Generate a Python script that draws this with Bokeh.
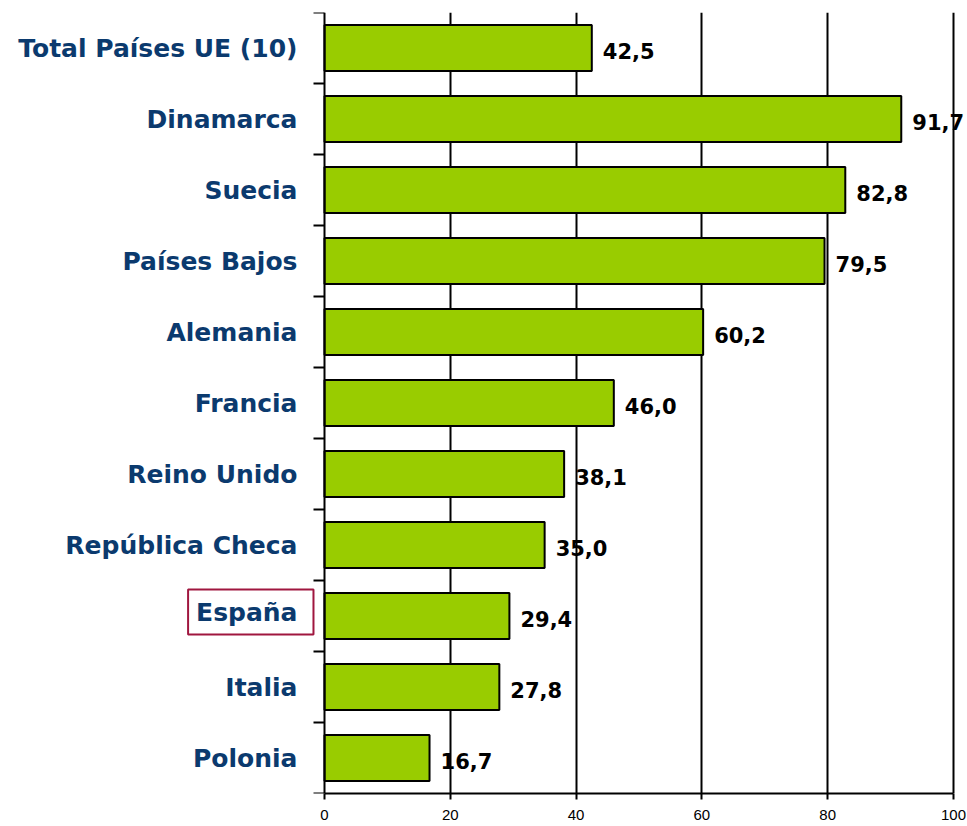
from bokeh.plotting import figure
from bokeh.models import Range1d, FixedTicker, Label, ColumnDataSource
from bokeh.core.properties import value
from bokeh.embed import file_html
from bokeh.resources import INLINE

# Data (top to bottom in the reference)
countries = ["Total Países UE (10)", "Dinamarca", "Suecia", "Países Bajos", "Alemania",
             "Francia", "Reino Unido", "República Checa", "España", "Italia", "Polonia"]
values = [42.5, 91.7, 82.8, 79.5, 60.2, 46.0, 38.1, 35.0, 29.4, 27.8, 16.7]
value_labels = ["42,5", "91,7", "82,8", "79,5", "60,2", "46,0", "38,1", "35,0", "29,4", "27,8", "16,7"]
x_ticks = [0, 20, 40, 60, 80, 100]
highlight = "España"

n = len(countries)
ypos = [n - 0.5 - i for i in range(n)]

LABEL_FONT = "DejaVu Sans"
NAVY = "#0B3A6E"

p = figure(width=967, height=826, output_backend="svg", toolbar_location=None,
           x_range=Range1d(-51.51, 102.23), y_range=Range1d(0, n),
           min_border_left=0, min_border_top=12, min_border_bottom=33, min_border_right=0)
p.outline_line_color = None
p.background_fill_color = "white"

src = ColumnDataSource(dict(y=ypos, v=values, lab=value_labels))
p.hbar(y="y", left=0, right="v", height=0.65, source=src,
       fill_color="#99CC00", line_color="black", line_width=2)
p.text(x="v", y="y", text="lab", source=src, x_offset=11, y_offset=3,
       text_font=value("DejaVu Sans"), text_font_style="bold", text_font_size="21px",
       text_color="black", text_baseline="middle", text_align="left")

# x axis
xa = p.xaxis[0]
xa.ticker = FixedTicker(ticks=x_ticks)
xa.bounds = (0, 100)
xa.axis_line_color = "black"
xa.axis_line_width = 2
xa.major_tick_line_color = "black"
xa.major_tick_line_width = 2
xa.major_tick_out = 6
xa.major_tick_in = 0
xa.minor_tick_line_color = None
xa.major_label_text_font = "Liberation Sans"
xa.major_label_text_font_size = "15px"
xa.major_label_text_color = "black"
xa.major_label_standoff = 10

# y axis, fixed at x = 0
ya = p.yaxis[0]
ya.fixed_location = 0
ya.ticker = FixedTicker(ticks=ypos, minor_ticks=list(range(n + 1)))
overrides = {}
for yy, c in zip(ypos, countries):
    overrides[yy] = "" if c == highlight else c
ya.major_label_overrides = overrides
ya.axis_line_color = "black"
ya.axis_line_width = 2
ya.major_tick_line_color = None
ya.major_tick_out = 0
ya.major_tick_in = 0
ya.minor_tick_line_color = "black"
ya.minor_tick_line_width = 2
ya.minor_tick_out = 11
ya.minor_tick_in = 0
ya.major_label_text_font = LABEL_FONT
ya.major_label_text_font_style = "bold"
ya.major_label_text_font_size = "25px"
ya.major_label_text_color = NAVY
ya.major_label_standoff = 16

# grid
p.xgrid.ticker = FixedTicker(ticks=x_ticks[1:])
p.xgrid.grid_line_color = "black"
p.xgrid.grid_line_width = 2
p.ygrid.grid_line_color = None

# highlighted label with box
hi = countries.index(highlight)
p.add_layout(Label(x=-1.75, y=ypos[hi] + 4 / 71, text=highlight, x_units="data", y_units="data",
                   text_align="right", text_baseline="middle",
                   text_font=LABEL_FONT, text_font_style="bold", text_font_size="25px",
                   text_color=NAVY, border_line_color="#A0163F", border_line_width=2,
                   background_fill_color="white",
                   padding=dict(left=8, right=16, top=8, bottom=8)))

open("out.html", "w").write(file_html(p, INLINE))
